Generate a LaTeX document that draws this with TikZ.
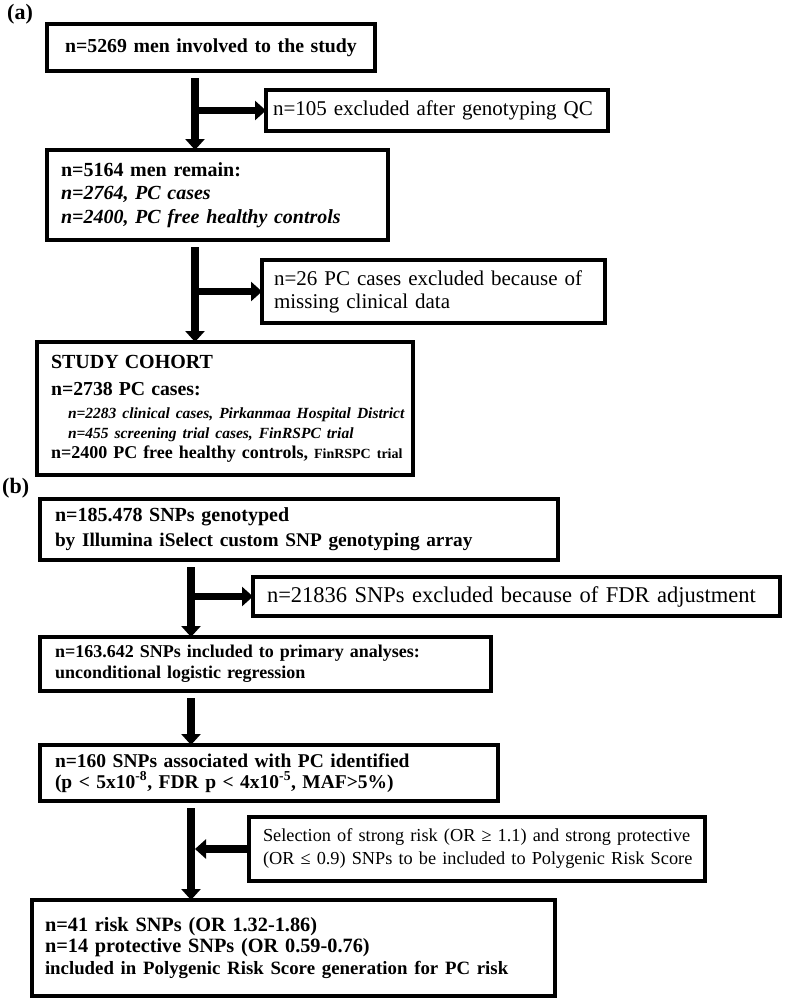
\documentclass[tikz,border=0pt]{standalone}
\usepackage{fontspec}
\setmainfont{Liberation Serif}
\usetikzlibrary{arrows.meta}
\newcommand\fsz[1]{\fontsize{#1}{20}\selectfont}
\begin{document}
\begin{tikzpicture}[x=1pt,y=-1pt,
  box/.style={draw, line width=4pt, anchor=north west, outer sep=0pt, align=left, inner ysep=0pt},
  arr/.style={line width=7.5pt, -{Triangle[width=19pt,length=11pt]}},
  lbl/.style={font=\fontsize{22}{24}\selectfont\bfseries, anchor=north west, inner sep=0pt}]
\useasboundingbox (0,0) rectangle (790,1001);
% ---------- (a) ----------
\node[lbl] (la) at (7,4) {(a)};
\node[box, font=\fontsize{19.8}{23}\selectfont\bfseries, align=center, inner xsep=4pt, text width=320pt, minimum height=47pt] (n1) at (47,24)
  {n=5269 men involved to the study};
\node[box, font=\fontsize{21}{23}\selectfont, inner xsep=7pt, text width=328pt, minimum height=41pt] (e1) at (266,90)
  {\mbox{n=105 excluded after genotyping QC}};
\node[box, font=\fontsize{20}{23.5}\selectfont\bfseries, inner xsep=14pt, text width=313pt, minimum height=90pt] (n2) at (47,150)
  {n=5164 men remain:\\ \textit{n=2764, PC cases}\\ \mbox{\textit{n=2400, PC free healthy controls}}};
\node[box, font=\fontsize{21}{23}\selectfont, inner xsep=12pt, text width=319pt, minimum height=63pt] (e2) at (262,260)
  {\mbox{n=26 PC cases excluded because of}\\ missing clinical data};
\node[box, font=\fontsize{18}{20}\selectfont\bfseries, inner xsep=14pt, text width=348pt, minimum height=133pt] (n3) at (37,342)
  {{\fsz{20}STUDY COHORT}\\[7pt]
   {\fsz{19.8}n=2738 PC cases:}\\[3pt]
   \mbox{\hspace*{17pt}\fsz{15.5}\itshape n=2283 clinical cases, Pirkanmaa Hospital District}\\
   \mbox{\hspace*{17pt}\fsz{15.5}\itshape n=455 screening trial cases, FinRSPC trial}\\
   \mbox{n=2400 PC free healthy controls, {\fsz{14}FinRSPC trial}}\\[6pt]};
\coordinate (xa) at (195,0);
\draw[arr] ([yshift=-7pt]n1.south -| xa) -- (n2.north -| xa);
\draw[arr] ([yshift=-7pt]n2.south -| xa) -- (n3.north -| xa);
\draw[arr] ([xshift=-4pt]e1.west -| xa) -- (e1.west);
\draw[arr] ([xshift=-4pt]e2.west -| xa) -- (e2.west);
% ---------- (b) ----------
\node[lbl] (lb) at (2,478) {(b)};
\node[box, font=\fontsize{20}{25}\selectfont\bfseries, inner xsep=15pt, text width=488pt, minimum height=61pt] (m1) at (40,499)
  {n=185.478 SNPs genotyped\\ {\fsz{19.3}by Illumina iSelect custom SNP genotyping array}};
\node[box, font=\fontsize{22.5}{24}\selectfont, inner xsep=14pt, text width=499pt, minimum height=39pt] (f1) at (253,577)
  {\mbox{n=21836 SNPs excluded because of FDR adjustment}};
\node[box, font=\fontsize{18}{21}\selectfont\bfseries, inner xsep=15pt, text width=421pt, minimum height=54pt] (m2) at (40,637)
  {n=163.642 SNPs included to primary analyses:\\ unconditional logistic regression};
\node[box, font=\fontsize{19.5}{21}\selectfont\bfseries, inner xsep=15pt, text width=428pt, minimum height=56pt] (m3) at (40,745)
  {n=160 SNPs associated with PC identified\\ (p < 5x10\textsuperscript{-8}, FDR p < 4x10\textsuperscript{-5}, MAF>5\%)};
\node[box, font=\fontsize{18.3}{23}\selectfont, inner xsep=14pt, text width=428pt, minimum height=64pt] (f2) at (249,817)
  {\mbox{Selection of strong risk (OR ≥ 1.1) and strong protective}\\ \mbox{(OR ≤ 0.9) SNPs to be included to Polygenic Risk Score}};
\node[box, font=\fontsize{20.3}{21.5}\selectfont\bfseries, inner xsep=13pt, text width=497pt, minimum height=96pt] (m4) at (32,900)
  {n=41 risk SNPs (OR 1.32-1.86)\\ n=14 protective SNPs (OR 0.59-0.76)\\ {\fsz{18.8}included in Polygenic Risk Score generation for PC risk}\\[8pt]};
\coordinate (xb) at (191,0);
\draw[arr] ([yshift=-7pt]m1.south -| xb) -- (m2.north -| xb);
\draw[arr] ([yshift=-7pt]m2.south -| xb) -- (m3.north -| xb);
\draw[arr] ([yshift=-7pt]m3.south -| xb) -- (m4.north -| xb);
\draw[arr] ([xshift=-4pt]f1.west -| xb) -- (f1.west);
\draw[arr] (f2.west) -- ([xshift=4pt]f2.west -| xb);
\end{tikzpicture}
\end{document}
